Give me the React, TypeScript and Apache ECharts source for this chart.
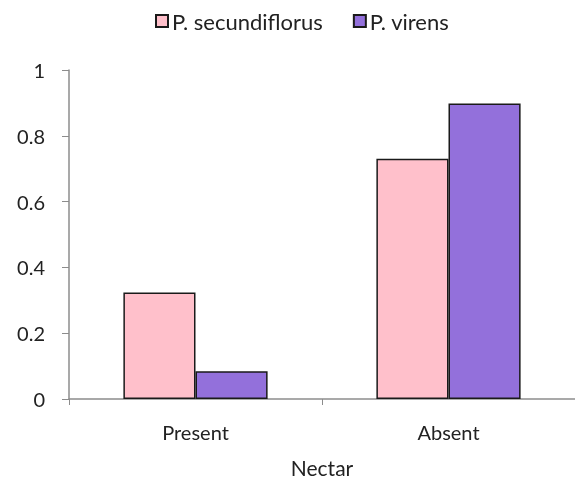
import React, { useEffect, useRef } from "react";
import * as echarts from "echarts";

const categories = ["Present", "Absent"];
const secundiflorus = [0.324, 0.73];
const virens = [0.084, 0.898];
const seriesNames = ["P. secundiflorus", "P. virens"];
const xAxisName = "Nectar";

export default function App() {
  const ref = useRef<HTMLDivElement>(null);
  useEffect(() => {
    if (!ref.current) return;
    const chart = echarts.init(ref.current, null, { renderer: "svg" });
    const font = "Lato, 'Open Sans', sans-serif";
    chart.setOption({
      animation: false,
      textStyle: { fontFamily: font },
      legend: {
        top: 5,
        left: 150,
        itemWidth: 12,
        itemHeight: 12,
        itemGap: 30,
        icon: "rect",
        textStyle: { fontSize: 22, color: "#222", fontFamily: font, padding: [0, 0, 0, -1] },
        data: seriesNames,
      },
      grid: { left: 69, right: 0, top: 70, bottom: 80, containLabel: false },
      xAxis: {
        type: "category",
        data: categories,
        name: xAxisName,
        nameLocation: "middle",
        nameGap: 58,
        nameTextStyle: { fontSize: 21, color: "#222", fontFamily: font },
        axisLine: { lineStyle: { color: "#8c8c8c", width: 1.5 } },
        axisTick: { show: true, length: 6, lineStyle: { color: "#8c8c8c" } },
        axisLabel: { fontSize: 20, color: "#222", margin: 23, fontFamily: font },
      },
      yAxis: {
        type: "value",
        min: 0,
        max: 1,
        interval: 0.2,
        axisLine: { show: true, lineStyle: { color: "#8c8c8c", width: 1.5 } },
        axisTick: { show: true, length: 7, lineStyle: { color: "#8c8c8c" } },
        splitLine: { show: false },
        axisLabel: {
          fontSize: 20,
          color: "#222",
          margin: 24,
          fontFamily: font,
          formatter: (v: number) => String(Math.round(v * 10) / 10),
        },
      },
      series: [
        {
          name: seriesNames[0],
          type: "bar",
          data: secundiflorus,
          barCategoryGap: "43%",
          barGap: "0%",
          itemStyle: { color: "#FFC0CB", borderColor: "#1a1a1a", borderWidth: 1.5 },
        },
        {
          name: seriesNames[1],
          type: "bar",
          data: virens,
          barCategoryGap: "43%",
          barGap: "0%",
          itemStyle: { color: "#9370DB", borderColor: "#1a1a1a", borderWidth: 1.5 },
        },
      ],
    });
    return () => chart.dispose();
  }, []);
  return (
    <div
      ref={ref}
      style={{ position: "fixed", left: 0, top: 0, width: 575, height: 483, overflow: "hidden" }}
    />
  );
}
